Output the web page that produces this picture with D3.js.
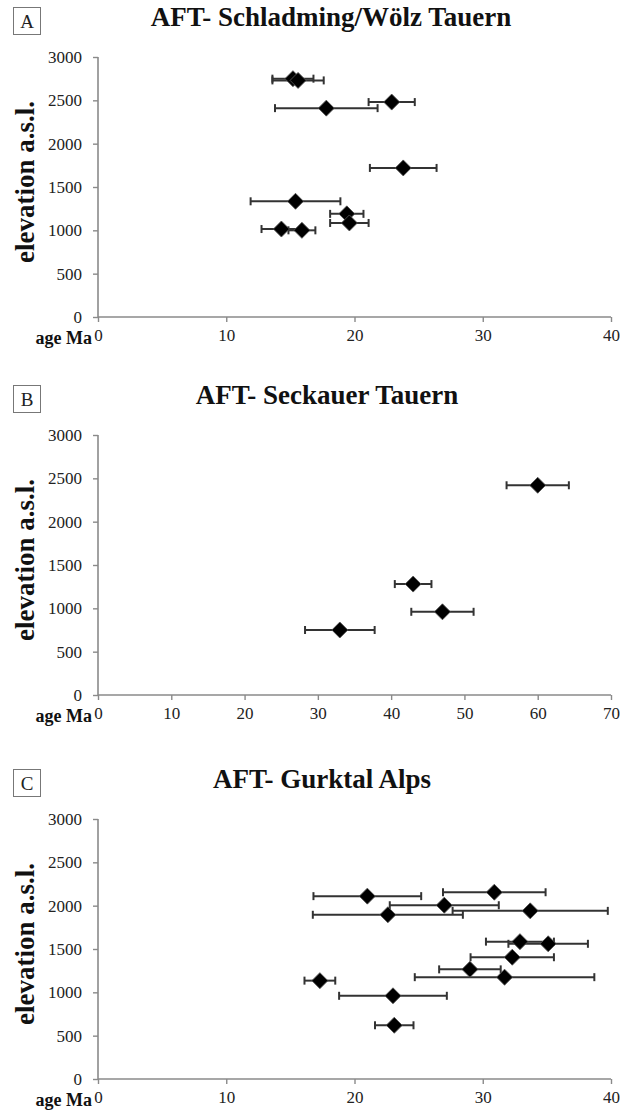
<!DOCTYPE html>
<html>
<head>
<meta charset="utf-8">
<script src="https://cdn.jsdelivr.net/npm/d3@7"></script>
<style>
  body { margin: 0; background: #fff; }
  text { font-family: "Liberation Serif", "DejaVu Serif", serif; }
</style>
</head>
<body>
<div id="chart"></div>
<script>
// AFT ages (Ma), sample elevations (m a.s.l.) and 1-sigma age errors
let agesA = [15.2, 15.6, 17.8, 22.9, 23.8, 15.4, 19.4, 19.6, 14.3, 15.9]
let elevA = [2750, 2730, 2410, 2480, 1720, 1335, 1190, 1085, 1015, 1000]
let errA = [1.6, 2.0, 4.0, 1.8, 2.6, 3.5, 1.3, 1.5, 1.55, 1.05]

let agesB = [60, 43, 47, 33]
let elevB = [2420, 1280, 960, 750]
let errB = [4.25, 2.5, 4.25, 4.75]

let agesC = [21.0, 30.9, 27.0, 33.7, 22.6, 32.9, 35.1, 32.3, 29.0, 31.7, 17.3, 23.0, 23.1]
let elevC = [2110, 2155, 2005, 1940, 1895, 1585, 1560, 1405, 1265, 1175, 1135, 960, 620]
let errC = [4.2, 4.0, 4.25, 6.05, 5.85, 2.65, 3.1, 3.25, 2.4, 7.0, 1.2, 4.2, 1.5]

let xTicksA = [0, 10, 20, 30, 40]
let xTicksB = [0, 10, 20, 30, 40, 50, 60, 70]
let yTicks = [0, 500, 1000, 1500, 2000, 2500, 3000]

const W = 633, H = 1113
const x0 = 98, x1 = 611, plotH = 260

const panels = [
    { key: 'A', title: 'AFT- Schladming/Wölz Tauern', ages: agesA, elev: elevA, err: errA, xTicks: xTicksA, top: 57, titleX: 331 },
    { key: 'B', title: 'AFT- Seckauer Tauern', ages: agesB, elev: elevB, err: errB, xTicks: xTicksB, top: 435, titleX: 327 },
    { key: 'C', title: 'AFT- Gurktal Alps', ages: agesC, elev: elevC, err: errC, xTicks: xTicksA, top: 819, titleX: 322 }
]

let svg = d3.select('#chart')
    .append('svg')
    .attr('width', W)
    .attr('height', H)
    .attr('viewBox', [0, 0, W, H])

let diamond = d3.symbol().type(d3.symbolSquare).size(128)

panels.forEach(p => {
    let g = svg.append('g').attr('class', 'panel-' + p.key)
    let bottom = p.top + plotH

    let x = d3.scaleLinear()
        .domain(d3.extent(p.xTicks))
        .range([x0, x1])
    let y = d3.scaleLinear()
        .domain([0, 3000])
        .range([bottom, p.top])

    // panel letter in a box
    g.append('rect')
        .attr('x', 13.5).attr('y', p.top - 49.5)
        .attr('width', 27).attr('height', 27)
        .attr('fill', 'none').attr('stroke', '#777').attr('stroke-width', 1)
    g.append('text')
        .attr('x', 27).attr('y', p.top - 29)
        .attr('text-anchor', 'middle')
        .style('font-size', '19px')
        .attr('fill', '#222')
        .text(p.key)

    g.append('text')
        .attr('x', p.titleX).attr('y', p.top - 31)
        .attr('text-anchor', 'middle')
        .style('font-size', '27px').style('font-weight', 'bold')
        .attr('fill', '#111')
        .text(p.title)

    // axes
    let yAxis = g.append('g')
        .attr('transform', `translate(${x0},0)`)
        .call(d3.axisLeft(y).tickValues(yTicks).tickSize(5).tickPadding(11).tickFormat(d3.format('d')))
    let xAxis = g.append('g')
        .attr('transform', `translate(0,${bottom})`)
        .call(d3.axisBottom(x).tickValues(p.xTicks).tickSize(5).tickPadding(7).tickFormat(d3.format('d')))

    ;[yAxis, xAxis].forEach(ax => {
        ax.attr('font-family', null)
        ax.selectAll('.domain').attr('stroke', '#8a8a8a').attr('stroke-width', 1.6)
        ax.selectAll('.tick line').attr('stroke', '#8a8a8a').attr('stroke-width', 1.4)
        ax.selectAll('.tick text')
            .attr('fill', '#222')
            .style('font-family', '"Liberation Serif", serif')
            .style('font-size', '17px')
    })
    yAxis.select('.domain').attr('d', `M-0,${p.top}H0V${bottom}`)
    xAxis.select('.domain').attr('d', `M${x0},0H${x1}`)

    g.append('text')
        .attr('transform', `translate(34,${(p.top + bottom) / 2 - 5}) rotate(-90)`)
        .attr('text-anchor', 'middle')
        .style('font-size', '27px').style('font-weight', 'bold')
        .attr('fill', '#111')
        .text('elevation a.s.l.')

    g.append('text')
        .attr('x', 92).attr('y', bottom + 27)
        .attr('text-anchor', 'end')
        .style('font-size', '18px').style('font-weight', 'bold')
        .attr('fill', '#111')
        .text('age Ma')

    let pts = p.ages.map((a, i) => ({ age: a, elev: p.elev[i], err: p.err[i] }))

    // horizontal error bars with end caps
    let bars = g.append('g').attr('stroke', '#333').attr('stroke-width', 2)
    bars.selectAll('line.err')
        .data(pts)
        .join('line')
        .attr('class', 'err')
        .attr('x1', d => x(d.age - d.err))
        .attr('x2', d => x(d.age + d.err))
        .attr('y1', d => y(d.elev))
        .attr('y2', d => y(d.elev))
    bars.selectAll('line.capL')
        .data(pts)
        .join('line')
        .attr('class', 'capL')
        .attr('x1', d => x(d.age - d.err)).attr('x2', d => x(d.age - d.err))
        .attr('y1', d => y(d.elev) - 4).attr('y2', d => y(d.elev) + 4)
    bars.selectAll('line.capR')
        .data(pts)
        .join('line')
        .attr('class', 'capR')
        .attr('x1', d => x(d.age + d.err)).attr('x2', d => x(d.age + d.err))
        .attr('y1', d => y(d.elev) - 4).attr('y2', d => y(d.elev) + 4)

    g.append('g')
        .selectAll('path')
        .data(pts)
        .join('path')
        .attr('d', diamond)
        .attr('transform', d => `translate(${x(d.age)},${y(d.elev)}) rotate(45)`)
        .attr('fill', '#000')
        .attr('stroke', '#555')
        .attr('stroke-width', 0.8)
})
</script>
</body>
</html>
